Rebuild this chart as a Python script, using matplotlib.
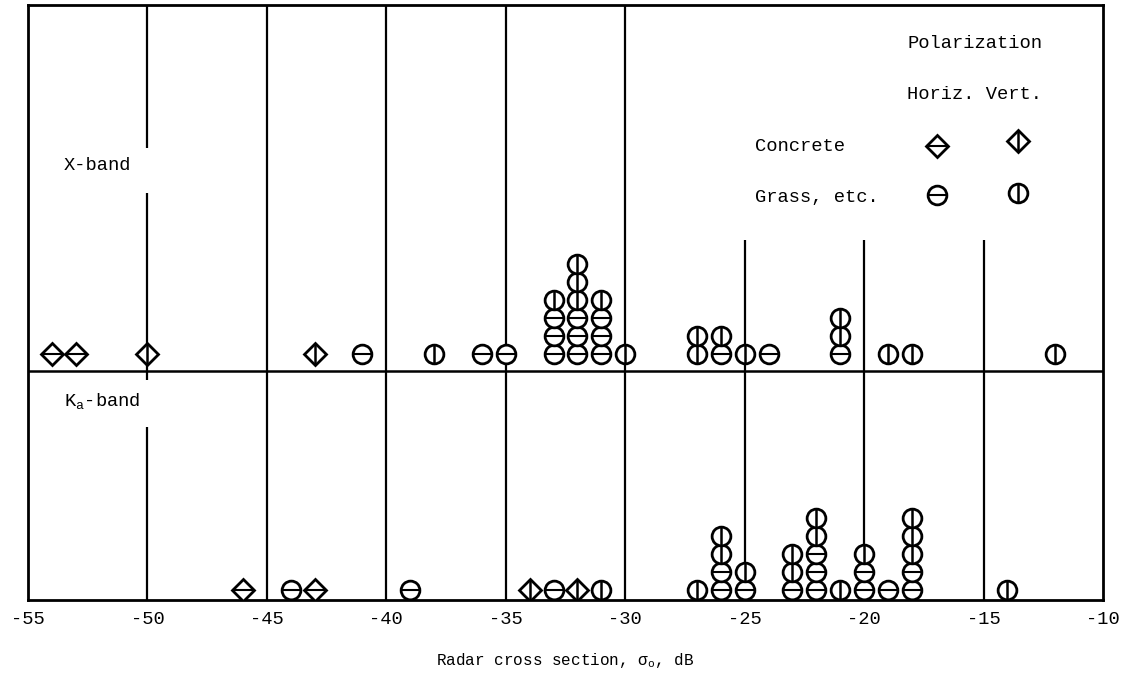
import numpy as np
import matplotlib.pyplot as plt

plt.rcParams['font.family'] = ['Liberation Mono', 'DejaVu Sans']
plt.rcParams['axes.unicode_minus'] = False
plt.rcParams['mathtext.fontset'] = 'custom'
plt.rcParams['mathtext.rm'] = 'Liberation Mono'
plt.rcParams['mathtext.it'] = 'Liberation Mono'

# radar cross section readings, dB (listed bottom to top where they stack)
# kind: C = concrete, G = grass etc. ; H = horizontal, V = vertical polarization
xband_db = [-54, -53, -50, -43, -41, -38, -36, -35,
            -33, -33, -33, -33,
            -32, -32, -32, -32, -32, -32,
            -31, -31, -31, -31,
            -30, -27, -27, -26, -26, -25, -24,
            -21, -21, -21, -19, -18, -12]
xband_kind = ['CH', 'CH', 'CV', 'CV', 'GH', 'GV', 'GH', 'GH',
              'GH', 'GH', 'GH', 'GV',
              'GH', 'GH', 'GH', 'GV', 'GV', 'GV',
              'GH', 'GH', 'GH', 'GV',
              'GV', 'GV', 'GV', 'GH', 'GV', 'GV', 'GH',
              'GH', 'GV', 'GV', 'GV', 'GV', 'GV']

kaband_db = [-46, -44, -43, -39, -34, -33, -32, -31, -27,
             -26, -26, -26, -26,
             -25, -25,
             -23, -23, -23,
             -22, -22, -22, -22, -22,
             -21,
             -20, -20, -20,
             -19,
             -18, -18, -18, -18, -18,
             -14]
kaband_kind = ['CH', 'GH', 'CH', 'GH', 'CV', 'GH', 'CV', 'GV', 'GV',
               'GH', 'GH', 'GV', 'GV',
               'GH', 'GV',
               'GH', 'GV', 'GV',
               'GH', 'GH', 'GH', 'GV', 'GV',
               'GV',
               'GH', 'GH', 'GV',
               'GH',
               'GH', 'GH', 'GV', 'GV', 'GV',
               'GV']

xticks = np.arange(-55, -9, 5)

# vertical scale of the panel (arbitrary units)
YTOP = 595
MID = 229
STEP = 18
XBASE = 246
KABASE = 10

fig = plt.figure(figsize=(11.25, 6.81), dpi=100)
ax = fig.add_axes([28 / 1125, 1 - 600 / 681, 1075 / 1125, 595 / 681])
ax.set_xlim(-55, -10)
ax.set_ylim(0, YTOP)


def draw_symbol(ax, x, y, kind, trans=None, zorder=3):
    kw = dict(color='black', linestyle='none', zorder=zorder)
    if trans is not None:
        kw['transform'] = trans
    if kind[0] == 'C':
        ax.plot(x, y, marker='D', ms=11.5, mfc='white', mec='black', mew=2, **kw)
        ln = 16
    else:
        ax.plot(x, y, marker='o', ms=13.5, mfc='white', mec='black', mew=2, **kw)
        ln = 13.5
    kw['zorder'] = zorder + 0.5
    if kind[1] == 'H':
        ax.plot(x, y, marker='_', ms=ln, mew=1.5, **kw)
    else:
        ax.plot(x, y, marker='|', ms=ln, mew=1.8, **kw)


def draw_band(ax, values, kinds, base):
    count = {}
    for v, k in zip(values, kinds):
        lev = count.get(v, 0)
        count[v] = lev + 1
        draw_symbol(ax, v, base + lev * STEP, k)


# grid lines (broken where the labels sit)
lw = 1.6
ax.vlines([-50, -50], [MID, 452], [407, YTOP], color='black', lw=lw, zorder=1)
ax.vlines([-45, -40, -35, -30], MID, YTOP, color='black', lw=lw, zorder=1)
ax.vlines([-25, -20, -15], MID, 360, color='black', lw=lw, zorder=1)
ax.vlines([-50, -50], [0, 220], [173, MID], color='black', lw=lw, zorder=1)
ax.vlines([-45, -40, -35, -30, -25, -20, -15], 0, MID, color='black', lw=lw, zorder=1)
ax.axhline(MID, color='black', lw=1.8, zorder=1)

draw_band(ax, xband_db, xband_kind, XBASE)
draw_band(ax, kaband_db, kaband_kind, KABASE)

# band labels
ax.text(0.0335, 0.731, 'X-band', transform=ax.transAxes, fontsize=13.5, va='center')
ax.text(0.0335, 0.335, r'K$_\mathrm{a}$-band', transform=ax.transAxes, fontsize=13.5, va='center')

# legend block
ax.text(0.8177, 0.936, 'Polarization', transform=ax.transAxes, fontsize=13.5, va='center')
ax.text(0.8177, 0.849, 'Horiz. Vert.', transform=ax.transAxes, fontsize=13.5, va='center')
ax.text(0.676, 0.763, 'Concrete', transform=ax.transAxes, fontsize=13.5, va='center')
ax.text(0.676, 0.677, 'Grass, etc.', transform=ax.transAxes, fontsize=13.5, va='center')
draw_symbol(ax, 0.8456, 0.763, 'CH', trans=ax.transAxes)
draw_symbol(ax, 0.921, 0.772, 'CV', trans=ax.transAxes)
draw_symbol(ax, 0.8456, 0.680, 'GH', trans=ax.transAxes)
draw_symbol(ax, 0.921, 0.684, 'GV', trans=ax.transAxes)

ax.set_xticks(xticks)
ax.set_xticklabels([str(t) for t in xticks], fontsize=13.5)
ax.set_yticks([])
ax.tick_params(axis='x', length=0, pad=8)
for s in ax.spines.values():
    s.set_linewidth(2)

ax.set_xlabel(r'Radar cross section, $\sigma_\mathrm{o}$, dB', fontsize=11.5)
ax.xaxis.set_label_coords(0.5, -0.085)

fig.savefig('out.png', dpi=100, facecolor='white')
